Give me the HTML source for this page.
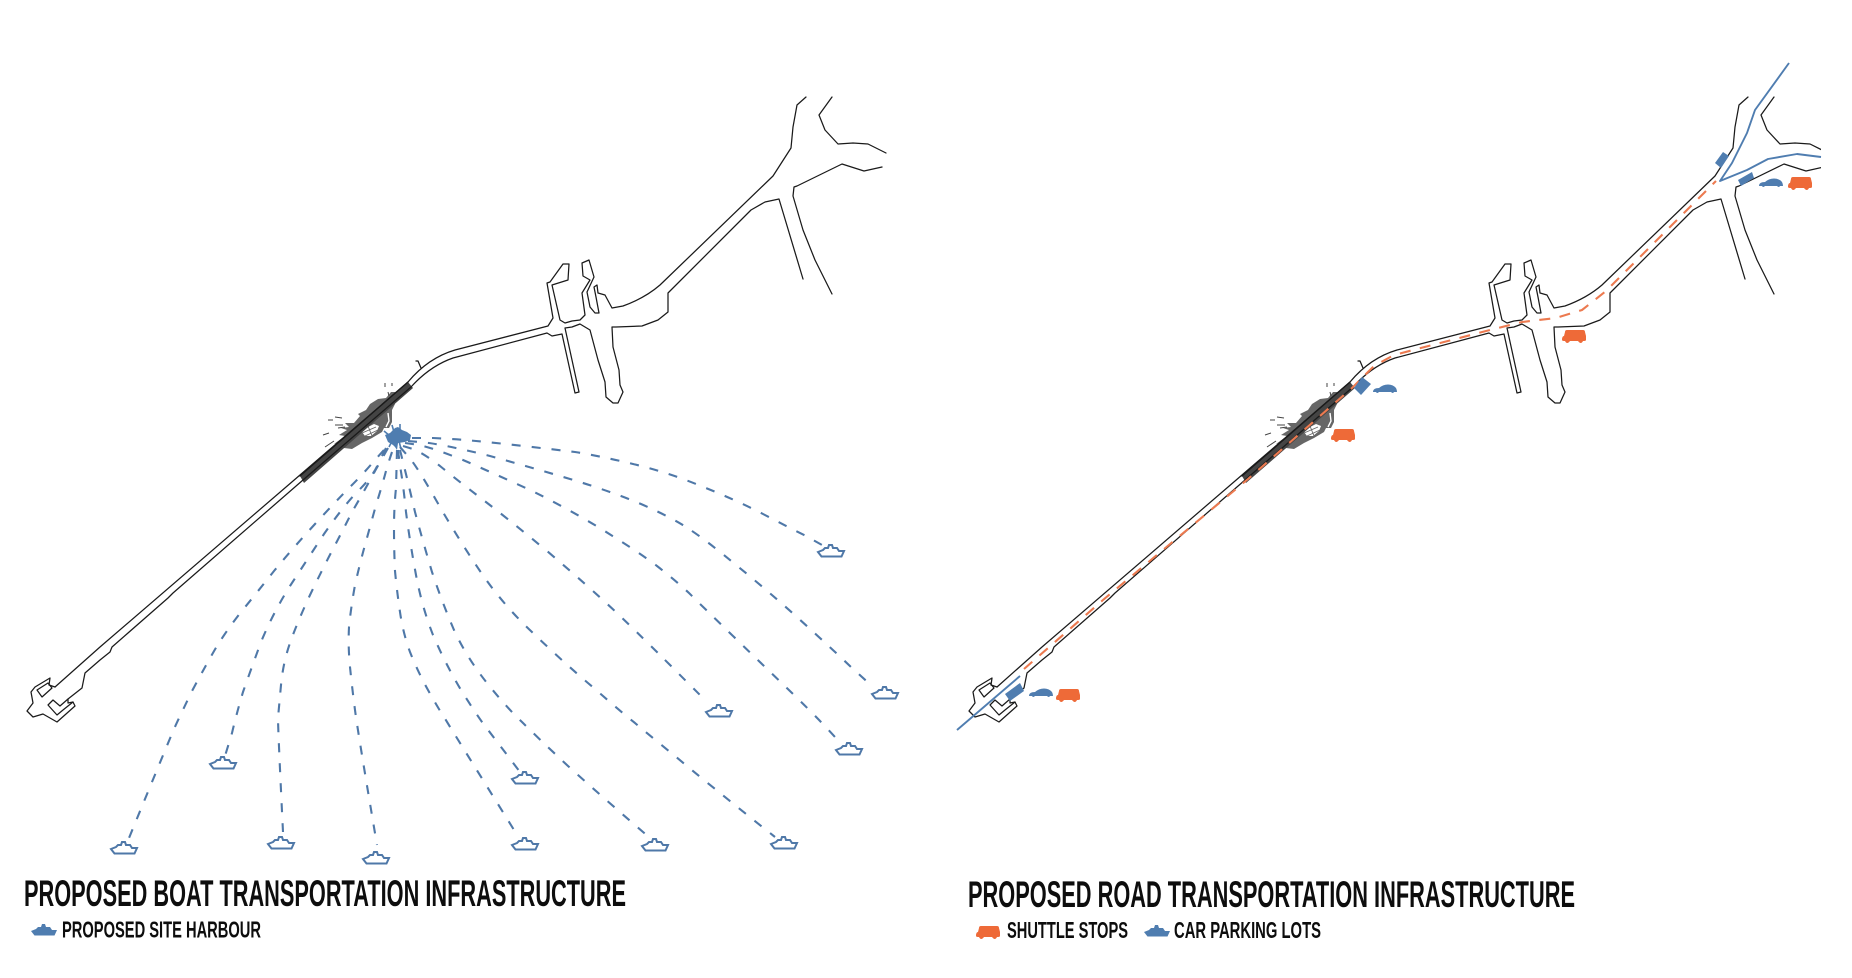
<!DOCTYPE html>
<html lang="en">
<head>
<meta charset="utf-8">
<title>Proposed transportation infrastructure</title>
<style>
html,body{margin:0;padding:0;background:#fff;width:1852px;height:978px;overflow:hidden}
svg{display:block}
text{font-family:"Liberation Sans Narrow","Liberation Sans",sans-serif;font-weight:700;fill:#0d0d0d}
.r{fill:none;stroke:#1a1a1a;stroke-width:1.25;stroke-linejoin:round;stroke-linecap:round}
.d{fill:none;stroke:#4f78a8;stroke-width:2.1;stroke-dasharray:9 11}
.b{fill:#fff;stroke:#4f78a8;stroke-width:2;stroke-linejoin:miter}
</style>
</head>
<body>
<svg width="1852" height="978" viewBox="0 0 1852 978" xmlns="http://www.w3.org/2000/svg">
<defs>
  <clipPath id="cr"><rect x="900" y="0" width="921" height="978"/></clipPath>
  <path id="boat" d="M-13,0 L-8,-2 L-6,-4 L-3,-4 L-2,-7 L1,-7 L2,-4 L6,-4 L8,-1 L13,-1 L10.5,4.5 L-9.5,4.5 Z"/>
  <path id="car" d="M-12,3 Q-12,-1 -6,-1 Q-2,-4.5 3,-4.5 Q8,-4.5 11,-1 Q12,1 12,3 L9,3 Q8,5 6,3 L-6,3 Q-8,5 -9,3 Z"/>
  <path id="bus" d="M-12,3 Q-12,-1 -10,-1 L-9,-5 Q-9,-7 -7,-7 L9,-7 Q11,-7 11,-5 L12,-1 L12,3 Q12,4 9,4 Q7,8 4,4 L-4,4 Q-7,8 -9,4 Q-12,4 -12,3 Z"/>
  <g id="map">
    <polygon fill="#666" points="337,447 342,442 334,444 345,436 339,435 347,430 341,428 349,427 345,423 354,423 360,416 358,414 366,410 370,404 378,399 386,398 391,392 395,392 395,404 392,410 392,422 389,428 384,428 382,432 372,438 362,443 352,449 344,448"/>
    <polygon fill="#fff" points="362,432 368,427 374,424 379,426 377,431 371,436 365,436"/>
    <path d="M362,433 L376,427 M365,436 L378,430 M368,426 L372,436" stroke="#666" stroke-width="0.9" fill="none"/>
    <path d="M388,413 L389,421 L386,427" stroke="#fff" stroke-width="1.4" fill="none"/>
    <g stroke="#444" stroke-width="1" fill="none">
      <path d="M328,420 L333,420 M335,417 L342,418 M335,425 L343,425 M338,428 L345,427 M323,435 L329,433 M325,447 L334,441 M385,383 L385,387 M392,383 L392,386 M388,392 L389,396"/>
    </g>
    <path d="M300,476 L408,382 L413,388 L304,483 Z" fill="#444"/>
    <path d="M300,476 L408,382" class="r"/>
    <path class="r" d="M55,687 L100,647 L300,475 L408,382 Q428,358 455,350 L548,326 L553,318 L547,283 L550,282 L563,264 L569,264 L568,280 L552,285 L560,320 L565,323 L572,321 L580,320 L585,315 L582,293 L590,280 L583,276 L582,263 L589,260 L594,277 L587,292 L590,307 L595,313 L599,313 L596,297 L594,287 L597,285 L598,293 L605,295 L612,308 L623,306 Q645,298 660,285 L773,176 L791,148 L793,127 L797,105 L806,97"/>
    <path class="r" d="M416,361 L418,361 L421,368"/>
    <path class="r" d="M832,97 L819,115 L825,130 L838,144 L853,143 L868,144 L886,153"/>
    <path class="r" d="M882,167 L864,171 L842,164 L797,186 L794,187 L793,196 L803,230 L815,260 L832,294"/>
    <path class="r" d="M803,279 L779,199 L765,202 L751,210 L668,293 L668,312 L658,320 L642,326 L616,327 L612,327 L613,347 L619,370 L620,385 L623,392 L618,403 L613,403 L606,397 L605,382 L598,360 L590,330 L580,324 L572,327 L565,328 L579,392 L575,393 L562,334 L552,336 L547,333 L453,358 Q430,366 411,387 L303,480 L173,593 L168,598 L112,647 L110,652 L100,660 L85,673 L82,688 L68,699 L68,703 L73,702 L75,706 L57,722 L43,714 L33,717 L27,711 L33,703 L31,692 L35,687 L50,678 L49,685 L55,687"/>
    <path class="r" d="M73,702 L63,710 L57,715 L48,705 L53,700 L60,706 L68,699"/>
    <path class="r" d="M37,690 L48,683 L52,688 L42,697 Z"/>
  </g>
</defs>

<!-- LEFT -->
<use href="#map"/>
<path d="M385,435 L390,433 L395,428 L398,427 L402,430 L407,432 L411,435 L410,440 L405,442 L398,443 L397,450 L395,447 L393,445 L388,442 Z" fill="#4f7db0"/>
<path d="M392,425 L394,432 M400,424 L400,431 M389,447 L392,441 M401,449 L399,441 M384,431 L390,436" stroke="#4f7db0" stroke-width="1.6" fill="none"/>
<g class="d">
  <path d="M412,438 L433,438 Q455,439 476,441 Q497,443 523,446 Q550,449 575,452 Q600,456 633,464 Q667,472 701,486 Q736,500 763,514 Q790,528 806,536 L822,545"/>
  <path d="M408,441 L429,443 Q450,446 490,456 Q530,467 570,479 Q610,491 641,504 Q673,518 689,529 Q706,540 736,565 Q767,590 798,618 Q830,647 851,667 L873,687"/>
  <path d="M405,443 L419,445 Q433,448 463,460 Q493,473 530,490 Q567,508 603,530 Q640,553 657,566 Q675,580 689,593 Q703,607 733,636 Q763,665 793,694 Q823,723 842,745"/>
  <path d="M403,446 L413,449 Q423,453 440,466 Q457,480 482,499 Q507,518 547,551 Q587,585 617,613 Q647,642 662,657 Q677,672 707,702"/>
  <path d="M400,447 L407,455 Q415,463 436,500 Q457,537 480,571 Q503,605 533,633 Q563,662 595,689 Q627,717 635,723 Q643,730 675,756 Q707,783 775,837"/>
  <path d="M400,450 L404,466 Q408,482 415,512 Q423,542 432,572 Q442,602 454,630 Q467,658 487,683 Q507,708 522,722 Q537,737 568,766 Q600,795 650,838"/>
  <path d="M398,450 L400,466 Q403,482 406,512 Q410,543 416,575 Q422,607 433,635 Q445,663 461,690 Q478,717 485,726 Q492,735 520,772"/>
  <path d="M397,450 L396,488 Q394,507 394,528 Q394,550 395,571 Q397,592 400,612 Q403,633 410,652 Q418,672 428,690 Q438,708 444,717 Q450,727 519,838"/>
  <path d="M392,452 L387,467 Q383,483 376,505 Q370,527 365,545 Q360,563 355,585 Q351,607 349,627 Q348,647 350,667 Q352,687 355,710 Q358,733 377,845"/>
  <path d="M388,448 L375,471 Q362,495 352,512 Q343,530 333,549 Q323,568 310,595 Q297,623 290,643 Q283,663 281,685 Q279,707 278,718 Q278,730 283,832"/>
  <path d="M386,448 L379,462 Q373,477 357,492 Q342,508 324,534 Q307,560 290,586 Q273,613 261,642 Q250,672 243,692 Q237,712 232,733 L225,756"/>
  <path d="M384,450 L374,461 Q365,472 351,486 Q337,500 315,524 Q293,548 274,571 Q255,595 241,612 Q227,630 217,646 Q207,663 192,691 Q178,720 174,729 Q170,738 129,838"/>
</g>
<g class="b">
  <use href="#boat" x="831" y="552"/>
  <use href="#boat" x="885" y="694"/>
  <use href="#boat" x="849" y="750"/>
  <use href="#boat" x="719" y="712"/>
  <use href="#boat" x="784" y="844"/>
  <use href="#boat" x="655" y="846"/>
  <use href="#boat" x="525" y="779"/>
  <use href="#boat" x="525" y="845"/>
  <use href="#boat" x="376" y="859"/>
  <use href="#boat" x="281" y="844"/>
  <use href="#boat" x="223" y="764"/>
  <use href="#boat" x="124" y="849"/>
</g>
<text x="24" y="906" font-size="37" textLength="602" lengthAdjust="spacingAndGlyphs">PROPOSED BOAT TRANSPORTATION INFRASTRUCTURE</text>
<use href="#boat" x="44" y="931" fill="#4f7db0"/>
<text x="62" y="937.5" font-size="23" textLength="199" lengthAdjust="spacingAndGlyphs">PROPOSED SITE HARBOUR</text>

<!-- RIGHT -->
<g clip-path="url(#cr)"><use href="#map" x="942"/></g>
<polyline fill="none" stroke="#ec7a50" stroke-width="2.1" stroke-dasharray="11 9.5" points="1024,669 1103,600 1248,479 1352,388 1374,366 1394,355 1490,330 1522,322 1556,318 1582,310 1606,291 1704,193 1716,181"/>
<g fill="none" stroke="#4f7db0" stroke-width="1.9" stroke-linejoin="round">
  <polyline points="1789,63 1755,110 1747,133 1732,163 1720,181 1747,170 1768,159 1797,154 1821,157"/>
  <line x1="957" y1="730" x2="1020" y2="676"/>
</g>
<g fill="#4f7db0">
  <polygon points="1723,152 1729,156 1721,168 1715,163"/>
  <polygon points="1738,180 1752,172 1754,178 1741,186"/>
  <polygon points="1362,377 1371,384 1361,395 1354,388"/>
  <polygon points="1005,694 1020,683 1024,691 1010,701"/>
  <use href="#car" x="1771" y="183"/>
  <use href="#car" x="1385" y="389"/>
  <use href="#car" x="1041" y="693"/>
</g>
<g fill="#ee6a38">
  <use href="#bus" x="1800" y="184"/>
  <use href="#bus" x="1343" y="436"/>
  <use href="#bus" x="1574" y="337"/>
  <use href="#bus" x="1068" y="696"/>
</g>
<text x="968" y="907" font-size="37" textLength="607" lengthAdjust="spacingAndGlyphs">PROPOSED ROAD TRANSPORTATION INFRASTRUCTURE</text>
<use href="#bus" x="988" y="933" fill="#ee6a38"/>
<text x="1007" y="938" font-size="23" textLength="121" lengthAdjust="spacingAndGlyphs">SHUTTLE STOPS</text>
<use href="#boat" x="1157" y="932" fill="#4f7db0"/>
<text x="1174" y="938" font-size="23" textLength="147" lengthAdjust="spacingAndGlyphs">CAR PARKING LOTS</text>
</svg>
</body>
</html>
